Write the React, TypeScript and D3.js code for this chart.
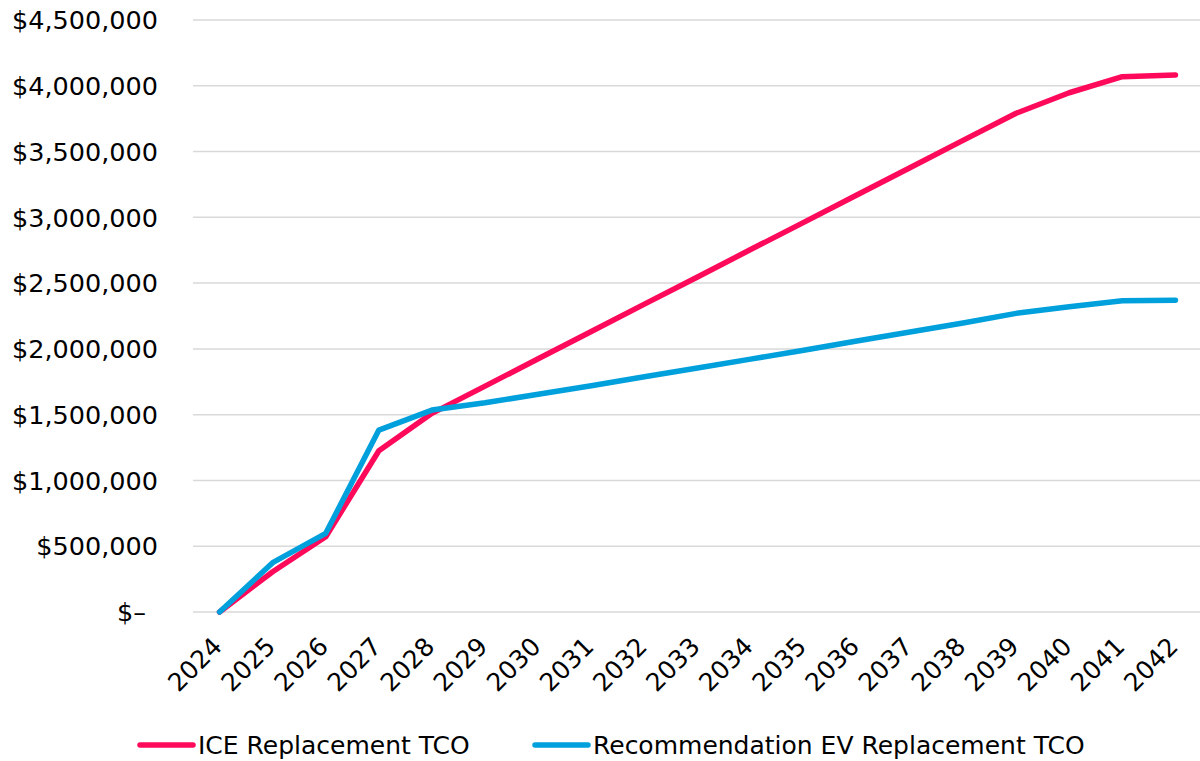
import React from "react";
import * as d3 from "d3";

const years = ["2024","2025","2026","2027","2028","2029","2030","2031","2032","2033","2034","2035","2036","2037","2038","2039","2040","2041","2042"];
const iceTCO = [0, 306000, 572000, 1226000, 1510000, 1717000, 1925000, 2132000, 2340000, 2547000, 2755000, 2962000, 3170000, 3377000, 3585000, 3791000, 3947000, 4069000, 4082000];
const evTCO = [0, 375000, 598000, 1383000, 1535000, 1590000, 1655000, 1720000, 1788000, 1855000, 1922000, 1990000, 2060000, 2128000, 2197000, 2270000, 2321000, 2366000, 2370000];
const yTicks = [0, 500000, 1000000, 1500000, 2000000, 2500000, 3000000, 3500000, 4000000, 4500000];
const seriesNames = ["ICE Replacement TCO", "Recommendation EV Replacement TCO"];
const colors = ["#FF0A5A", "#00A0DC"];

export default function App() {
  const W = 1200, H = 761;
  const x = d3.scaleBand<string>().domain(years).range([193, 1202]);
  const y = d3.scaleLinear().domain([0, 4500000]).range([612, 20]);
  const cx = (yr: string) => (x(yr) as number) + x.bandwidth() / 2;
  const line = d3.line<number>().x((_, i) => cx(years[i])).y((v) => y(v));
  const fmt = (v: number) => (v === 0 ? "$–" : "$" + d3.format(",")(v));
  const font = "'DejaVu Sans', sans-serif";
  return (
    <svg width={W} height={H} style={{ position: "absolute", left: 0, top: 0, background: "#fff" }} fontFamily={font}>
      {yTicks.map((t) => (
        <g key={t}>
          <line x1={193} x2={1200} y1={y(t)} y2={y(t)} stroke="#d9d9d9" strokeWidth={1.5} />
          <text x={t === 0 ? 146 : 158} y={y(t)} dy="0.36em" textAnchor="end" fontSize={25.5} fill="#000">
            {fmt(t)}
          </text>
        </g>
      ))}
      {years.map((yr) => (
        <text key={yr} transform={`translate(${cx(yr) + 4},${648}) rotate(-45)`} textAnchor="end" fontSize={25} fill="#000">
          {yr}
        </text>
      ))}
      {[iceTCO, evTCO].map((s, i) => (
        <path key={i} d={line(s) as string} fill="none" stroke={colors[i]} strokeWidth={5.5} strokeLinejoin="round" strokeLinecap="round" />
      ))}
      {seriesNames.map((n, i) => {
        const lx = i === 0 ? 140 : 535;
        return (
          <g key={n}>
            <line x1={lx} x2={lx + 53} y1={745} y2={745} stroke={colors[i]} strokeWidth={5.5} strokeLinecap="round" />
            <text x={lx + 58} y={745} dy="0.36em" fontSize={25} fill="#000">{n}</text>
          </g>
        );
      })}
    </svg>
  );
}
